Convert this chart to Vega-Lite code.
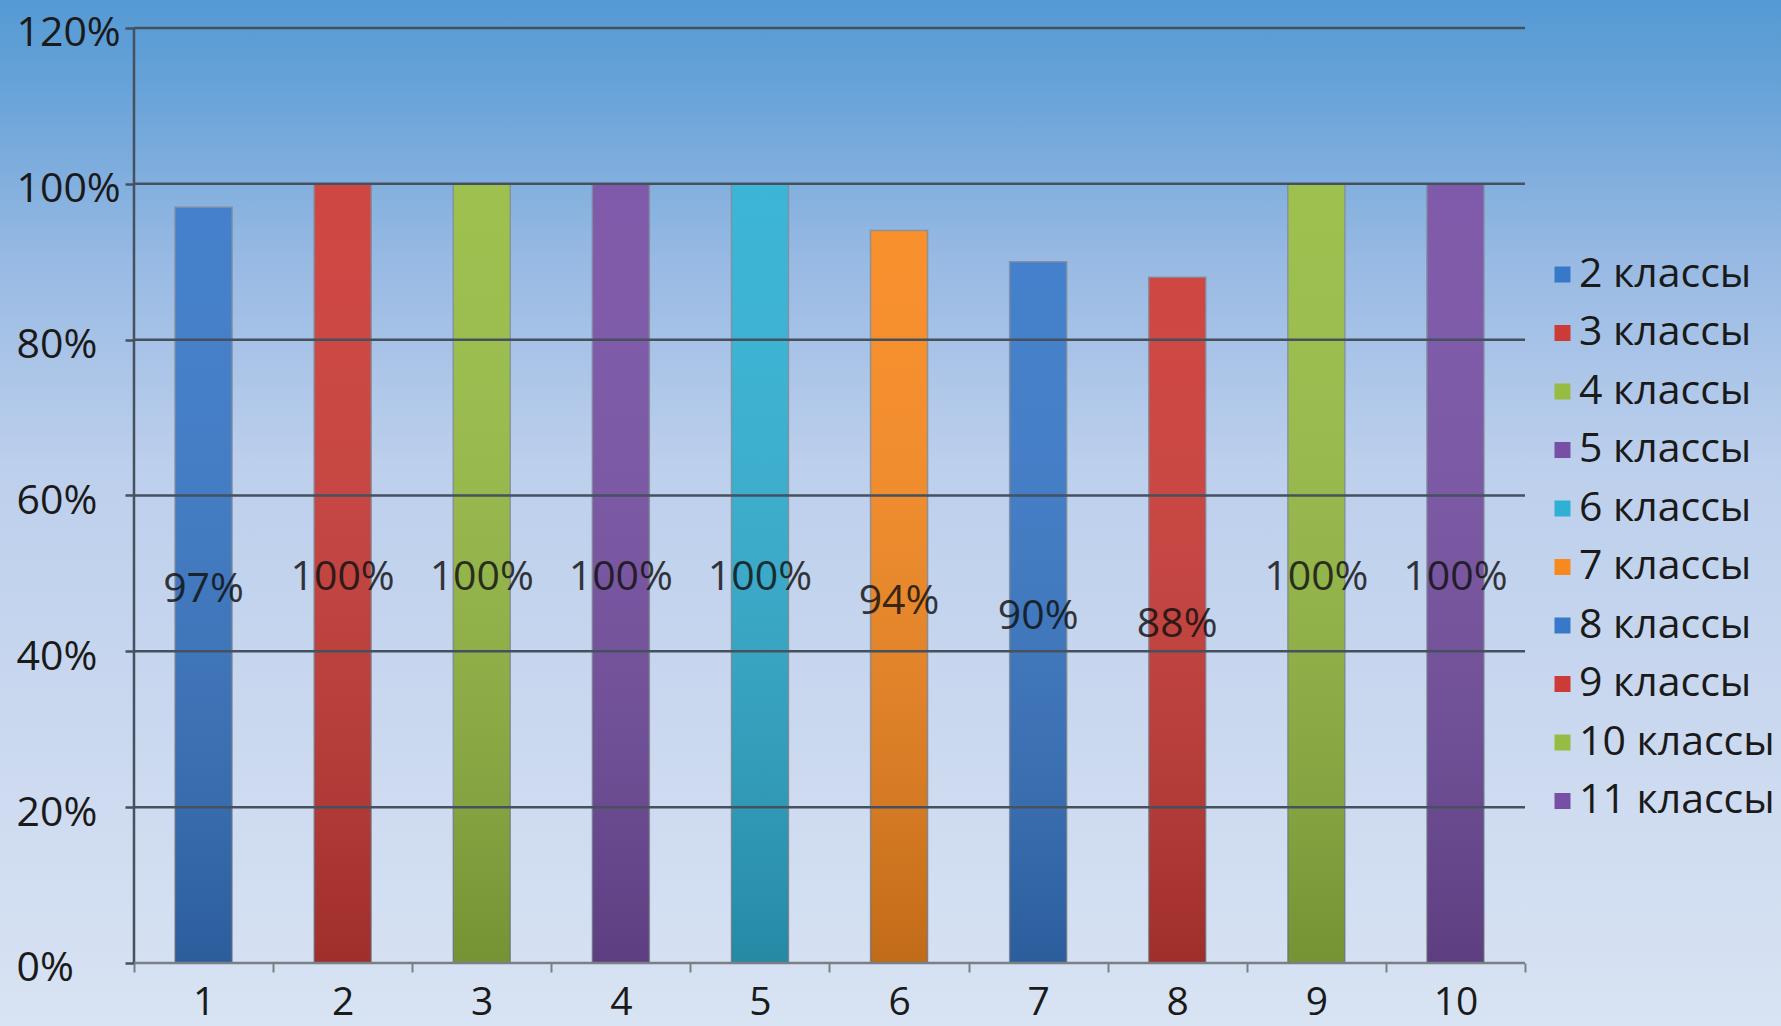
{
  "$schema": "https://vega.github.io/schema/vega-lite/v6.json",
  "width": 1781,
  "height": 1026,
  "autosize": {"type": "none"},
  "padding": 0,
  "background": "#c4d4ee",
  "config": {
    "font": "Open Sans",
    "view": {
      "stroke": null,
      "fill": {
        "gradient": "linear", "x1": 0, "y1": 0, "x2": 0, "y2": 1,
        "stops": [
          {"offset": 0, "color": "#559ad4"},
          {"offset": 0.08, "color": "#66a2d8"},
          {"offset": 0.25, "color": "#97b9e3"},
          {"offset": 0.45, "color": "#bccfec"},
          {"offset": 0.7, "color": "#cad8ef"},
          {"offset": 1, "color": "#d8e3f3"}
        ]
      }
    }
  },
  "datasets": {
    "bars": [
      {"n": 1, "cls": "2 классы", "v": 0.97},
      {"n": 2, "cls": "3 классы", "v": 1.0},
      {"n": 3, "cls": "4 классы", "v": 1.0},
      {"n": 4, "cls": "5 классы", "v": 1.0},
      {"n": 5, "cls": "6 классы", "v": 1.0},
      {"n": 6, "cls": "7 классы", "v": 0.94},
      {"n": 7, "cls": "8 классы", "v": 0.9},
      {"n": 8, "cls": "9 классы", "v": 0.88},
      {"n": 9, "cls": "10 классы", "v": 1.0},
      {"n": 10, "cls": "11 классы", "v": 1.0}
    ],
    "grid": [{"t": 0.2}, {"t": 0.4}, {"t": 0.6}, {"t": 0.8}, {"t": 1.0}, {"t": 1.2}],
    "one": [{"a": 1}]
  },
  "resolve": {"scale": {"y": "independent"}},
  "layer": [
    {
      "data": {"name": "bars"},
      "mark": {"type": "bar", "orient": "vertical", "width": 57, "stroke": "#7d8896", "strokeWidth": 1.5, "strokeOpacity": 0.8},
      "encoding": {
        "x": {
          "field": "n", "type": "quantitative",
          "scale": {"domain": [-0.4633, 12.3404], "nice": false, "zero": false, "padding": 0},
          "axis": {
            "orient": "bottom", "offset": -63, "title": null, "domain": false, "grid": false,
            "values": [0.5, 1, 1.5, 2, 2.5, 3, 3.5, 4, 4.5, 5, 5.5, 6, 6.5, 7, 7.5, 8, 8.5, 9, 9.5, 10, 10.5],
            "labelExpr": "datum.value % 1 === 0 ? format(datum.value, 'd') : ''",
            "tickOpacity": {"condition": {"test": "datum.value % 1 === 0", "value": 0}, "value": 1},
            "tickColor": "#7a7f86", "tickWidth": 2, "tickSize": 9,
            "labelFontSize": 39, "labelColor": "#1a1a1a", "labelPadding": 11, "labelFlush": false, "labelOverlap": false
          }
        },
        "y": {
          "field": "v", "type": "quantitative",
          "scale": {"domain": [-0.0809, 1.2359], "nice": false, "zero": false},
          "axis": {
            "orient": "left", "offset": -134, "title": null, "domain": false, "grid": false,
            "values": [0, 0.2, 0.4, 0.6, 0.8, 1.0, 1.2], "format": ".0%",
            "tickColor": "#45515e", "tickWidth": 2.5, "tickSize": 9,
            "labelAlign": "left", "labelPadding": 109, "labelOffset": 6, "labelFontSize": 41, "labelColor": "#1a1a1a", "labelFlush": false, "labelOverlap": false
          }
        },
        "color": {
          "field": "cls", "type": "nominal",
          "scale": {
            "domain": ["2 классы", "3 классы", "4 классы", "5 классы", "6 классы", "7 классы", "8 классы", "9 классы", "10 классы", "11 классы"],
            "range": ["#3878c8", "#cc3b37", "#97bc43", "#7750a5", "#30b0d3", "#f8891f", "#3878c8", "#cc3b37", "#97bc43", "#7750a5"]
          },
          "legend": {
            "orient": "none", "legendX": 1542, "legendY": 254, "title": null,
            "symbolType": "square", "symbolSize": 256, "symbolStrokeWidth": 0,
            "labelFontSize": 41, "labelColor": "#1a1a1a", "labelOffset": -4, "rowPadding": 16.5, "labelLimit": 400, "padding": 0
          }
        }
      }
    },
    {
      "data": {"name": "bars"},
      "mark": {
        "type": "bar", "orient": "vertical", "width": 57, "strokeWidth": 0,
        "fill": {
          "gradient": "linear", "x1": 0, "y1": 0, "x2": 0, "y2": 1,
          "stops": [
            {"offset": 0, "color": "rgba(255,255,255,0.06)"},
            {"offset": 1, "color": "rgba(0,0,0,0.22)"}
          ]
        }
      },
      "encoding": {
        "x": {"field": "n", "type": "quantitative", "scale": {"domain": [-0.4633, 12.3404], "nice": false, "zero": false, "padding": 0}},
        "y": {"field": "v", "type": "quantitative", "scale": {"domain": [-0.0809, 1.2359], "nice": false, "zero": false}, "axis": null}
      }
    },
    {
      "data": {"name": "grid"},
      "mark": {"type": "rule", "color": "#45515e", "strokeWidth": 2.5},
      "encoding": {
        "x": {"datum": 0.5, "type": "quantitative", "scale": {"domain": [-0.4633, 12.3404], "nice": false, "zero": false, "padding": 0}},
        "x2": {"datum": 10.5},
        "y": {"field": "t", "type": "quantitative", "scale": {"domain": [-0.0809, 1.2359], "nice": false, "zero": false}, "axis": null}
      }
    },
    {
      "data": {"name": "one"},
      "mark": {"type": "rule", "color": "#45515e", "strokeWidth": 2.5},
      "encoding": {
        "x": {"datum": 0.5, "type": "quantitative", "scale": {"domain": [-0.4633, 12.3404], "nice": false, "zero": false, "padding": 0}},
        "y": {"datum": 0, "type": "quantitative", "scale": {"domain": [-0.0809, 1.2359], "nice": false, "zero": false}, "axis": null},
        "y2": {"datum": 1.2}
      }
    },
    {
      "data": {"name": "one"},
      "mark": {"type": "rule", "color": "#7a7f86", "strokeWidth": 2.5},
      "encoding": {
        "x": {"datum": 0.5, "type": "quantitative", "scale": {"domain": [-0.4633, 12.3404], "nice": false, "zero": false, "padding": 0}},
        "x2": {"datum": 10.5},
        "y": {"datum": 0, "type": "quantitative", "scale": {"domain": [-0.0809, 1.2359], "nice": false, "zero": false}, "axis": null}
      }
    },
    {
      "data": {"name": "bars"},
      "mark": {"type": "text", "baseline": "middle", "align": "center", "dy": 5, "fontSize": 41, "color": "#111111", "opacity": 0.82},
      "encoding": {
        "x": {"field": "n", "type": "quantitative", "scale": {"domain": [-0.4633, 12.3404], "nice": false, "zero": false, "padding": 0}},
        "y": {"field": "v", "type": "quantitative", "scale": {"domain": [-0.1618, 2.4718], "nice": false, "zero": false}, "axis": null},
        "text": {"field": "v", "type": "quantitative", "format": ".0%"}
      }
    }
  ]
}
